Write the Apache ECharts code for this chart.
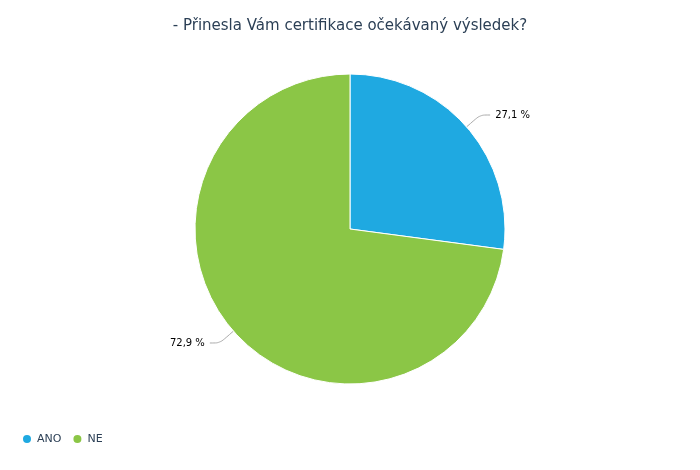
<!DOCTYPE html>
<html><head><meta charset="utf-8">
<script src="https://cdn.jsdelivr.net/npm/echarts@6/dist/echarts.min.js"></script>
<style>html,body{margin:0;padding:0;background:#fff}#c{width:700px;height:470px}</style>
</head><body><div id="c"></div>
<script>
const categories = ["ANO", "NE"];
const values = [27.1, 72.9];
const colors = ["#1fa9e1", "#8bc646"];
const chart = echarts.init(document.getElementById('c'), null, {renderer:'canvas'});
chart.setOption({
  animation: false,
  title: {text: '- Přinesla Vám certifikace očekávaný výsledek?', left: 'center', top: 14,
    textStyle: {fontFamily: 'DejaVu Sans', fontSize: 15, fontWeight: 'normal', color: '#2b3f55'}},
  legend: {data: categories, left: 16, top: 428, icon: 'circle', itemWidth: 10, itemHeight: 10, itemGap: 10,
    textStyle: {fontFamily: 'DejaVu Sans', fontSize: 11, color: '#2b3f55'}},
  series: [{
    type: 'pie', center: [350, 229], radius: 155, startAngle: 90, clockwise: true,
    itemStyle: {borderColor: '#fff', borderWidth: 1},
    label: {formatter: p => p.value.toFixed(1).replace('.', ',') + ' %', fontFamily: 'DejaVu Sans', fontSize: 10, color: '#000'},
    labelLine: {length: 18, length2: 10, smooth: 0.3, lineStyle: {color: '#aaa', width: 1}},
    data: categories.map((c, i) => ({name: c, value: values[i], itemStyle: {color: colors[i]}}))
  }]
});
</script></body></html>
